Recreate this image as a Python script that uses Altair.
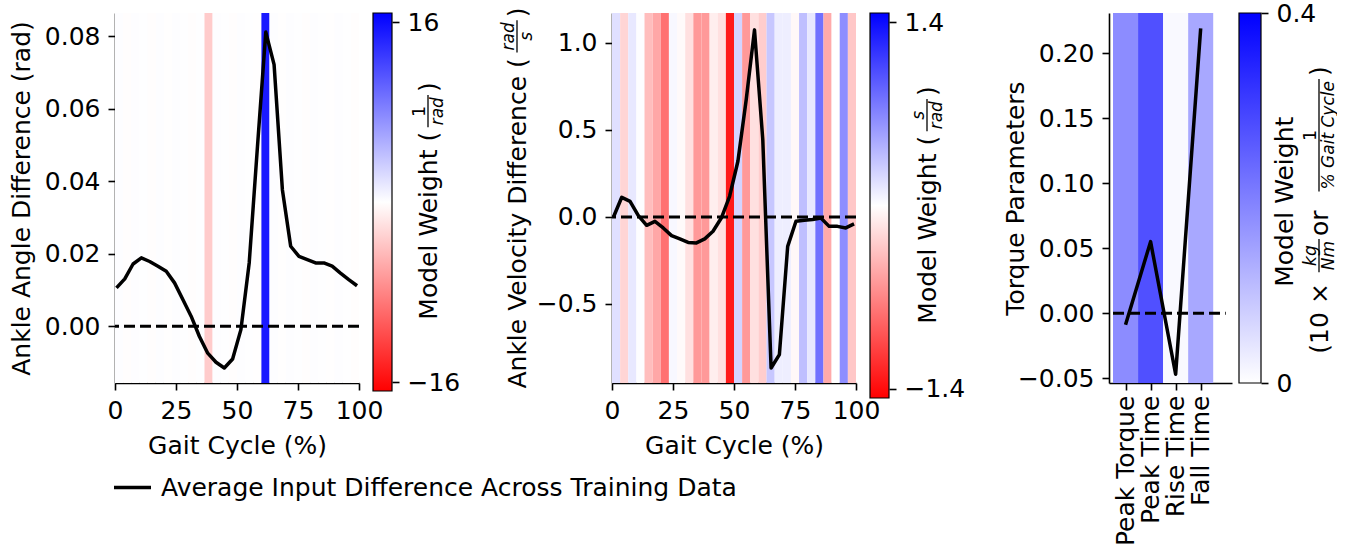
import json
import altair as alt
import pandas as pd

FONT = "DejaVu Sans"
FS = 25
SFS = 17

# ---------------- data ----------------
gait_pct = [0.6, 4.0, 7.4, 10.8, 14.2, 17.6, 21.0, 24.4, 27.8, 31.2, 34.6, 38.0, 41.4, 44.8, 48.2,
            51.6, 55.0, 58.4, 61.8, 65.2, 68.6, 72.0, 75.4, 78.8, 82.2, 85.6, 89.0, 92.4, 95.8, 99.2]
angle_diff = [0.0106, 0.0131, 0.0172, 0.0189, 0.0179, 0.0166, 0.0152, 0.0120, 0.0074, 0.0028,
              -0.0028, -0.0074, -0.0099, -0.0115, -0.0090, -0.0009, 0.0175, 0.0497, 0.0812, 0.0722,
              0.0377, 0.0221, 0.0193, 0.0184, 0.0175, 0.0175, 0.0166, 0.0147, 0.0129, 0.0112]
vel_diff = [0.0, 0.113, 0.090, 0.008, -0.048, -0.025, -0.063, -0.107, -0.126, -0.146,
            -0.149, -0.126, -0.082, -0.006, 0.119, 0.320, 0.674, 1.075, 0.444, -0.868,
            -0.791, -0.169, -0.025, -0.019, -0.015, -0.006, -0.054, -0.054, -0.063, -0.040]

cell_edges = [0.0, 3.33, 6.67, 10.0, 13.33, 16.67, 20.0, 23.33, 26.67, 30.0, 33.33, 36.67, 40.0,
              43.33, 46.67, 50.0, 53.33, 56.67, 60.0, 63.33, 66.67, 70.0, 73.33, 76.67, 80.0,
              83.33, 86.67, 90.0, 93.33, 96.67, 100.0]
angle_weight = [0.1, -0.1, 0.1, 0.05, -0.1, 0.1, -0.05, 0.1, 0.05, -0.1, 0.05, -3.4, 0.1, 0.05,
                -0.1, 0.1, 0.05, -0.05, 15.1, 0.1, -0.05, 0.1, 0.05, -0.1, 0.1, 0.05, -0.05, 0.1,
                0.05, -0.1]
vel_weight = [0.18, -0.24, 0.13, 0.01, -0.38, -0.51, -0.82, 0.04, -0.03, -0.18, -0.59, -0.59,
              -0.10, -0.18, -1.32, 0.25, -0.59, -0.18, -0.29, 0.32, 0.10, 0.10, -0.04, 0.37,
              0.13, 0.82, -0.49, 0.0, 0.65, -0.32]

torque_names = ["Peak Torque", "Peak Time", "Rise Time", "Fall Time"]
torque_values = [-0.009, 0.055, -0.047, 0.219]
torque_weight = [0.18, 0.275, 0.01, 0.137]

angle_cbar_ticks = [-16, 16]
vel_cbar_ticks = [-1.4, 1.4]
torque_cbar_ticks = [0, 0.4]
gait_ticks = [0, 25, 50, 75, 100]
angle_ticks = [0.0, 0.02, 0.04, 0.06, 0.08]
vel_ticks = [-0.5, 0.0, 0.5, 1.0]
torque_ticks = [-0.05, 0.0, 0.05, 0.10, 0.15, 0.20]

LEGEND_LABEL = "Average Input Difference Across Training Data"

# ---------------- layout constants ----------------
H = 370
W1 = 244
W3 = 123
TITLE_X = -94

ADV = {' ': 0.318, '(': 0.390, ')': 0.390, '%': 0.950, '×': 0.838, '.': 0.318,
       'A': 0.684, 'C': 0.698, 'D': 0.770, 'G': 0.775, 'M': 0.863, 'N': 0.748, 'T': 0.611,
       'V': 0.684, 'W': 0.989, 'a': 0.613, 'c': 0.550, 'd': 0.635, 'e': 0.615, 'f': 0.352,
       'g': 0.635, 'h': 0.634, 'i': 0.278, 'k': 0.579, 'l': 0.278, 'm': 0.974, 'n': 0.634,
       'o': 0.612, 'r': 0.411, 's': 0.521, 't': 0.392, 'y': 0.592}
for _d in "0123456789":
    ADV[_d] = 0.636

ONE = pd.DataFrame({"k": [0]})


def tw(s, size):
    return sum(ADV.get(c, 0.6) for c in s) * size


def txt(s, x, y, size, align, italic=False):
    return alt.Chart(ONE).mark_text(
        text=s, angle=270, align=align, baseline="middle", font=FONT, fontSize=size,
        fontStyle="italic" if italic else "normal", color="black"
    ).encode(x=alt.value(x), y=alt.value(y))


def fbar(x, y1, y2):
    return alt.Chart(ONE).mark_rule(color="black", strokeWidth=1.3).encode(
        x=alt.value(x), y=alt.value(y1), y2=alt.value(y2))


FPAD = 5


def rotated_title(segments, xc, yc):
    """Vertical (bottom-to-top) text with simple stacked fractions."""
    def seg_len(seg):
        if seg[0] == "t":
            return tw(seg[1], FS)
        return max(tw(seg[1], SFS), tw(seg[2], SFS)) + 2 * FPAD
    total = sum(seg_len(s) for s in segments)
    y = yc + total / 2
    out = []
    for seg in segments:
        L = seg_len(seg)
        if seg[0] == "t":
            out.append(txt(seg[1], xc, y, FS, "left"))
        else:
            mid = y - L / 2
            out.append(txt(seg[1], xc - 9, mid, SFS, "center", seg[3]))
            out.append(txt(seg[2], xc + 9, mid, SFS, "center", seg[4]))
            out.append(fbar(xc - 1, y - FPAD + 2, y - L + FPAD - 2))
        y -= L
    return out


def gradient(colors):
    n = len(colors) - 1
    return alt.Gradient(gradient="linear", x1=0, x2=0, y1=1, y2=0,
                        stops=[alt.GradientStop(color=c, offset=i / n) for i, c in enumerate(colors)])


def colorbar(lo, hi, ticks, fmt, colors, range_px, xa, xb, offset, label_expr=None):
    df = pd.DataFrame({"lo": [lo], "hi": [hi]})
    ax = dict(orient="right", offset=offset, values=ticks, format=fmt, domain=False,
              title=None, labelFlush=False, tickSize=7)
    if label_expr:
        ax["labelExpr"] = label_expr
    return alt.Chart(df).mark_rect(fill=gradient(colors), stroke="black", strokeWidth=1.2).encode(
        x=alt.value(xa), x2=alt.value(xb),
        y=alt.Y("hi:Q", scale=alt.Scale(domain=[lo, hi], range=[range_px, 0], nice=False, zero=False),
                axis=alt.Axis(**ax)),
        y2="lo:Q")


def y_axis(values, fmt, title):
    if title is None:
        return alt.Axis(values=values, format=fmt, title=None)
    return alt.Axis(values=values, format=fmt, title=title, titleX=TITLE_X, titleY=H / 2,
                    titleAngle=270, titleAlign="center", titleBaseline="middle")


BWR = ["#ff0000", "#ffffff", "#0000ff"]

# ---------------- panel 1 : ankle angle ----------------
XG = alt.Scale(domain=[0, 100], nice=False, zero=False)
x_axis_g = alt.Axis(values=gait_ticks, title="Gait Cycle (%)", format="d")

cells1 = pd.DataFrame({"start": cell_edges[:-1], "end": cell_edges[1:], "w": angle_weight})
YA = alt.Scale(domain=[-0.01563, 0.08646], nice=False, zero=False)
y_axis_a = y_axis(angle_ticks, ".2f", "Ankle Angle Difference (rad)")
A_MAX = 16.8

bands1 = alt.Chart(cells1).mark_rect().encode(
    x=alt.X("start:Q", scale=XG, axis=x_axis_g), x2="end:Q",
    y=alt.YDatum(0.08646, scale=YA, axis=y_axis_a), y2=alt.Y2Datum(-0.01563),
    fill=alt.Fill("w:Q", scale=alt.Scale(domain=[-A_MAX, 0, A_MAX], range=BWR, interpolate="rgb"), legend=None))
zero1 = alt.Chart(pd.DataFrame({"v": [0.0]})).mark_rule(color="black", strokeWidth=3, strokeDash=[11, 5]).encode(
    y=alt.Y("v:Q", scale=YA, axis=y_axis_a))
line1_df = pd.DataFrame({"g": gait_pct, "v": angle_diff, "series": LEGEND_LABEL})
line1 = alt.Chart(line1_df).mark_line(strokeWidth=3.5, strokeJoin="round").encode(
    x=alt.X("g:Q", scale=XG, axis=x_axis_g),
    y=alt.Y("v:Q", scale=YA, axis=y_axis_a),
    color=alt.Color("series:N", scale=alt.Scale(range=["black"]),
                    legend=alt.Legend(orient="none", legendX=-3, legendY=454, title=None,
                                      symbolType="stroke", symbolSize=1369, symbolStrokeWidth=3.5,
                                      labelFont=FONT, labelFontSize=FS, labelColor="black",
                                      labelOffset=8, labelLimit=2000, padding=0)))
main1 = alt.layer(bands1, zero1, line1)
cb1 = alt.layer(
    colorbar(-A_MAX, A_MAX, angle_cbar_ticks, "d", BWR, 378, 258, 277, 33),
    *rotated_title([("t", "Model Weight ("), ("f", "1", "rad", False, True), ("t", ")")], 314, 188))
p1 = alt.layer(main1, cb1).resolve_scale(y="independent").properties(width=W1, height=H)

# ---------------- panel 2 : ankle velocity ----------------
cells2 = pd.DataFrame({"start": cell_edges[:-1], "end": cell_edges[1:], "w": vel_weight})
YV = alt.Scale(domain=[-0.954, 1.172], nice=False, zero=False)
y_axis_v = y_axis(vel_ticks, ".1f", None)
V_MAX = 1.47
bands2 = alt.Chart(cells2).mark_rect().encode(
    x=alt.X("start:Q", scale=XG, axis=x_axis_g), x2="end:Q",
    y=alt.YDatum(1.172, scale=YV, axis=y_axis_v), y2=alt.Y2Datum(-0.954),
    fill=alt.Fill("w:Q", scale=alt.Scale(domain=[-V_MAX, 0, V_MAX], range=BWR, interpolate="rgb"), legend=None))
zero2 = alt.Chart(pd.DataFrame({"v": [0.0]})).mark_rule(color="black", strokeWidth=3, strokeDash=[11, 5]).encode(
    y=alt.Y("v:Q", scale=YV, axis=y_axis_v))
line2 = alt.Chart(pd.DataFrame({"g": gait_pct, "v": vel_diff})).mark_line(
    color="black", strokeWidth=3.5, strokeJoin="round").encode(
    x=alt.X("g:Q", scale=XG, axis=x_axis_g),
    y=alt.Y("v:Q", scale=YV, axis=y_axis_v))
main2 = alt.layer(bands2, zero2, line2)
cb2 = alt.layer(
    colorbar(-V_MAX, V_MAX, vel_cbar_ticks, ".1f", BWR, 385, 258, 277, 33),
    *rotated_title([("t", "Model Weight ("), ("f", "s", "rad", True, True), ("t", ")")], 316, 192),
    *rotated_title([("t", "Ankle Velocity Difference ("), ("f", "rad", "s", True, True), ("t", ")")],
                   TITLE_X, H / 2))
p2 = alt.layer(main2, cb2).resolve_scale(y="independent").properties(width=W1, height=H)

# ---------------- panel 3 : torque parameters ----------------
XT = alt.Scale(domain=[-0.66, 4.25], nice=False, zero=False)
YT = alt.Scale(domain=[-0.0537, 0.2308], nice=False, zero=False)
names_js = json.dumps(torque_names)
x_axis_t = alt.Axis(values=[0, 1, 2, 3], title=None, labelAngle=270, labelAlign="right",
                    labelBaseline="middle", labelPadding=5, labelExpr=f"{names_js}[datum.value]")
y_axis_t = y_axis(torque_ticks, ".2f", "Torque Parameters")
tq = pd.DataFrame({"idx": [0, 1, 2, 3], "v": torque_values, "w": torque_weight, "name": torque_names})
bands3 = alt.Chart(tq).transform_calculate(lo="datum.idx - 0.5", hi="datum.idx + 0.5").mark_rect().encode(
    x=alt.X("lo:Q", scale=XT, axis=x_axis_t), x2="hi:Q",
    y=alt.YDatum(0.2308, scale=YT, axis=y_axis_t), y2=alt.Y2Datum(-0.0537),
    fill=alt.Fill("w:Q", scale=alt.Scale(domain=[0, 0.4], range=["#ffffff", "#0000ff"], interpolate="rgb"),
                  legend=None))
zero3 = alt.Chart(pd.DataFrame({"a": [-0.5], "b": [4.0], "v": [0.0]})).mark_rule(
    color="black", strokeWidth=3, strokeDash=[11, 5]).encode(
    x=alt.X("a:Q", scale=XT, axis=x_axis_t), x2="b:Q", y=alt.Y("v:Q", scale=YT, axis=y_axis_t))
line3 = alt.Chart(tq).mark_line(color="black", strokeWidth=3.5, strokeJoin="round").encode(
    x=alt.X("idx:Q", scale=XT, axis=x_axis_t), y=alt.Y("v:Q", scale=YT, axis=y_axis_t))
main3 = alt.layer(bands3, zero3, line3)
cb3 = alt.layer(
    colorbar(0, 0.4, torque_cbar_ticks, ".1f", ["#ffffff", "#0000ff"], 370, 130, 152, 29,
             label_expr="datum.value == 0 ? '0' : format(datum.value, '.1f')"),
    *rotated_title([("t", "Model Weight")], 176, 188),
    *rotated_title([("t", "(10 × "), ("f", "kg", "Nm", True, True), ("t", " or "),
                    ("f", "1", "% Gait Cycle", False, True), ("t", " )")], 211, 193))
p3 = alt.layer(main3, cb3).resolve_scale(y="independent").properties(width=W3, height=H)

chart = alt.hconcat(p1, p2, p3, spacing=253, bounds="flush").resolve_scale(
    fill="independent", color="independent"
).configure_view(stroke=None).configure_axis(
    domainColor="black", domainWidth=1.6, tickColor="black", tickWidth=1.6, tickSize=7,
    labelFont=FONT, labelFontSize=FS, labelColor="black", labelPadding=8,
    titleFont=FONT, titleFontSize=FS, titleFontWeight="normal", titleColor="black", titlePadding=10,
    grid=False, labelFlush=False, labelOverlap=False
).properties(padding={"left": 8, "top": 1, "right": 0, "bottom": 0}, background="white")

chart.save("out.html", embed_options={"renderer": "svg", "actions": False})
